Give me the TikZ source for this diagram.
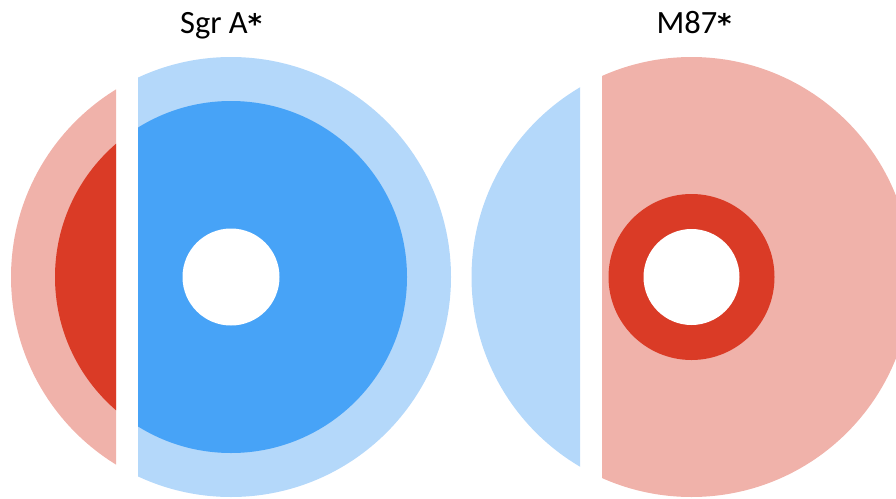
\documentclass[tikz,border=0pt]{standalone}
\usepackage{fontspec}
\setmainfont{Carlito}
\newfontfamily\astfont{DejaVu Sans}
\newcommand{\bigast}{{\astfont\bfseries\fontsize{27}{36}\selectfont *}}
\definecolor{lblue}{RGB}{180,216,250}
\definecolor{dblue}{RGB}{71,163,247}
\definecolor{lred}{RGB}{240,178,170}
\definecolor{dred}{RGB}{218,59,38}
\begin{document}
\begin{tikzpicture}[x=1pt,y=-1pt,
  title/.style={font=\fontsize{32.5}{38}\selectfont,anchor=base,inner sep=0pt}]
\useasboundingbox (0,0) rectangle (896,498);
\clip (0,0) rectangle (896,498);
% Sgr A*
\coordinate (cA) at (231,277);
\begin{scope}
  \clip (0,0) rectangle (116,498);
  \fill[lred] (cA) circle (220);
  \fill[dred] (cA) circle (176);
\end{scope}
\begin{scope}
  \clip (138,0) rectangle (470,498);
  \fill[lblue] (cA) circle (220);
  \fill[dblue] (cA) circle (176);
\end{scope}
\fill[white] (cA) circle (48.5);
\node[title] (tA) at (221,33) {Sgr A\bigast};
% M87*
\coordinate (cM) at (691.5,277);
\begin{scope}
  \clip (460,0) rectangle (580,498);
  \fill[lblue] (cM) circle (220);
\end{scope}
\begin{scope}
  \clip (602,0) rectangle (896,498);
  \fill[lred] (cM) circle (220);
  \fill[dred] (cM) circle (83);
\end{scope}
\fill[white] (cM) circle (48);
\node[title] (tM) at (694,33) {M87\bigast};
\end{tikzpicture}
\end{document}
